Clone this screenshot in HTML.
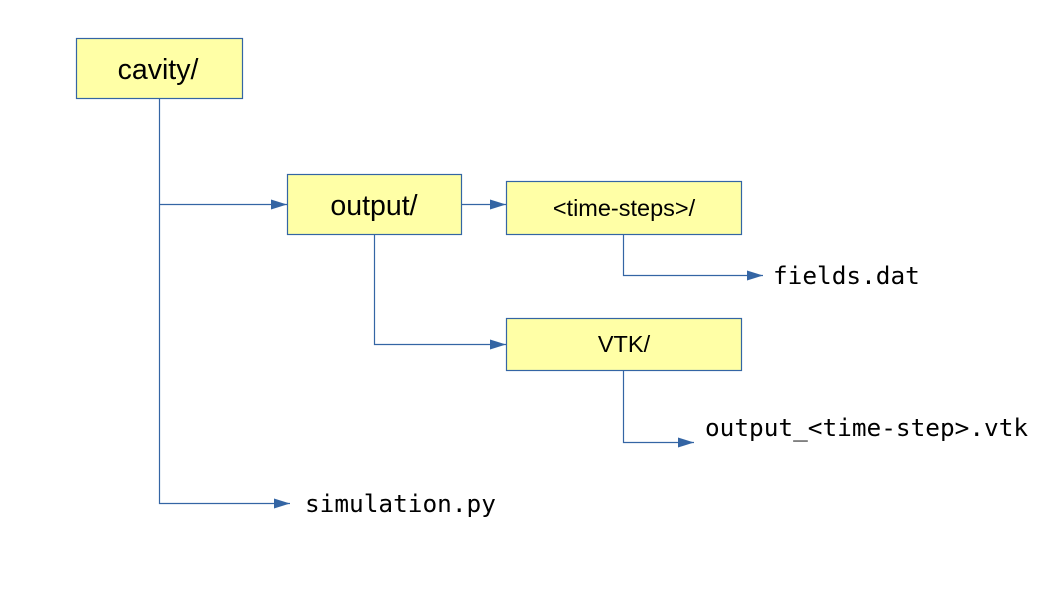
<!DOCTYPE html>
<html><head><meta charset="utf-8"><style>
html,body{margin:0;padding:0;background:#fff;}
</style></head><body>
<svg width="1058" height="595" viewBox="0 0 1058 595" xmlns="http://www.w3.org/2000/svg">
<defs>
<marker id="a" markerWidth="16" markerHeight="10" refX="16" refY="5" orient="auto" markerUnits="userSpaceOnUse">
<path d="M0,0 L16,5 L0,10 Z" fill="#3465a4"/>
</marker>
</defs>
<g fill="none" stroke="#3465a4" stroke-width="1.2">
<path d="M159.5,98 V503.5 H290" marker-end="url(#a)"/>
<path d="M159.5,204.5 H287" marker-end="url(#a)"/>
<path d="M461,204.5 H506" marker-end="url(#a)"/>
<path d="M623.5,234 V275.5 H763" marker-end="url(#a)"/>
<path d="M374.5,234 V344.5 H506" marker-end="url(#a)"/>
<path d="M623.5,370 V442.5 H694" marker-end="url(#a)"/>
</g>
<g fill="#ffffa6" stroke="#3465a4" stroke-width="1.2">
<rect x="76.5" y="38.5" width="166" height="60"/>
<rect x="287.5" y="174.5" width="174" height="60"/>
<rect x="506.5" y="181.5" width="235" height="53"/>
<rect x="506.5" y="318.5" width="235" height="52"/>
</g>
<g font-family="Liberation Sans, sans-serif" fill="#000" text-anchor="middle">
<text x="158" y="79" font-size="28.5">cavity/</text>
<text x="374" y="215" font-size="28.5">output/</text>
<text x="624" y="216" font-size="23.5">&lt;time-steps&gt;/</text>
<text x="624" y="352" font-size="23.5">VTK/</text>
</g>
<g font-family="DejaVu Sans Mono, Liberation Mono, monospace" font-size="24.4" fill="#000">
<text x="773" y="284">fields.dat</text>
<text x="705" y="436">output_&lt;time-step&gt;.vtk</text>
<text x="305" y="512">simulation.py</text>
</g>
</svg>
</body></html>
